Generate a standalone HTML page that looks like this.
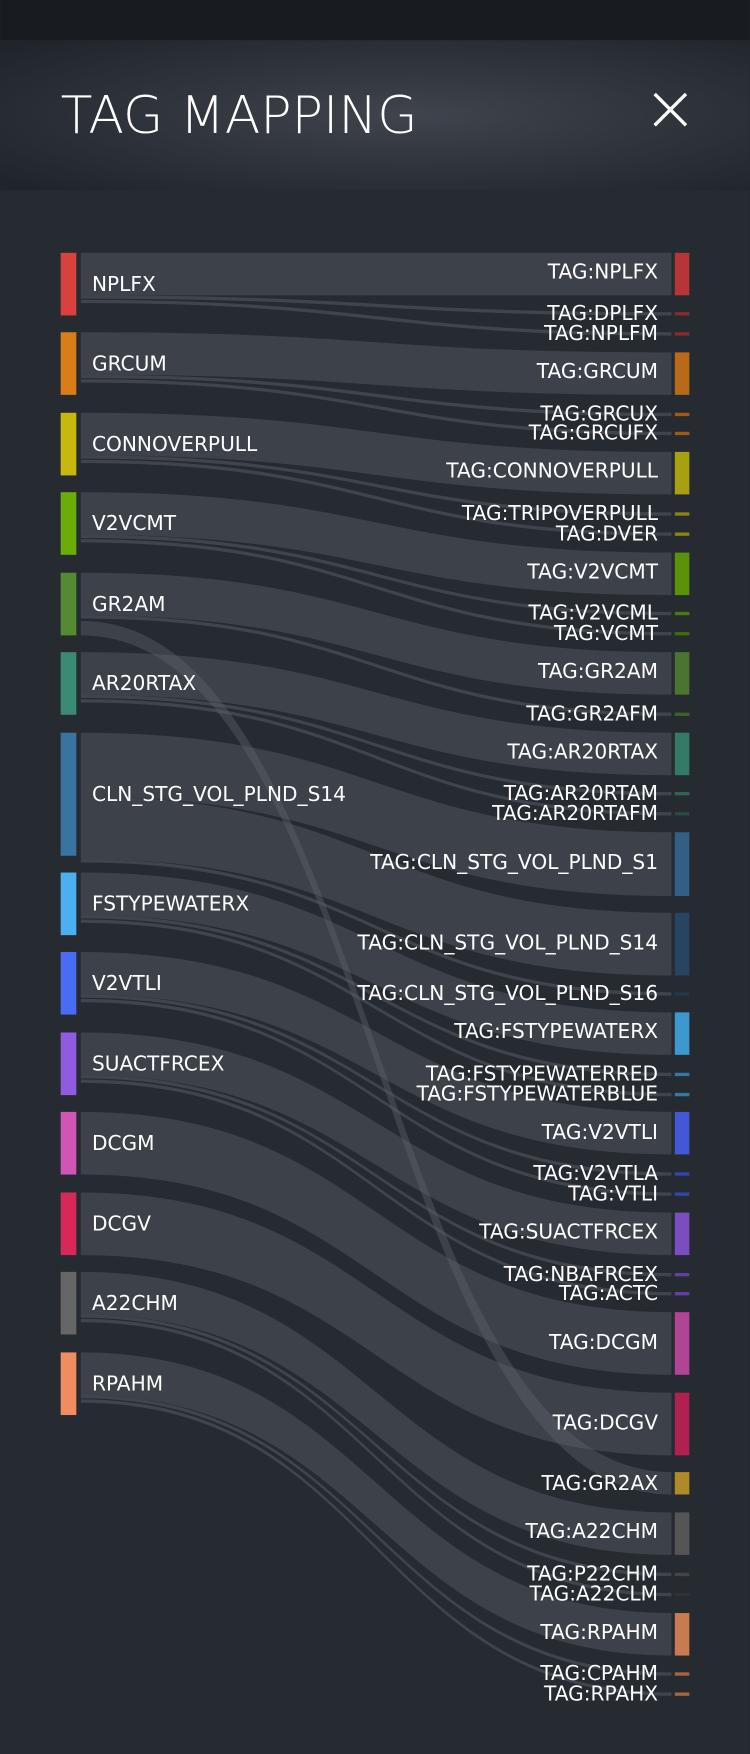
<!DOCTYPE html>
<html><head><meta charset="utf-8"><style>
html,body{margin:0;padding:0;background:#262a31;}
body{width:750px;height:1754px;overflow:hidden;font-family:"Liberation Sans","DejaVu Sans",sans-serif;}
svg{display:block}
text{font-family:"DejaVu Sans","Liberation Sans",sans-serif;fill:#fff;}
</style></head><body>
<svg id="s" width="750" height="1754" viewBox="0 0 670 1568" xmlns="http://www.w3.org/2000/svg">
<defs>
<radialGradient id="hg" cx="0.55" cy="0.5" r="0.7">
<stop offset="0" stop-color="#3f444d"/><stop offset="1" stop-color="#20242b"/></radialGradient>
</defs>
<rect x="0" y="0" width="670" height="1568" fill="#262a31"/>
<rect x="0" y="0" width="670" height="36" fill="#181c20"/>
<rect x="0" y="36" width="670" height="134" fill="url(#hg)"/>
<text x="54" y="119" font-size="46.5" style="font-weight:300" fill="#fff">TAG MAPPING</text>
<path d="M585,84 L613,112 M613,84 L585,112" stroke="#fff" stroke-width="3" fill="none"/>
<g id="links"></g>
<g id="nodes"></g>
<g font-size="18">
<text x="82" y="260">NPLFX</text>
<text x="82" y="331">GRCUM</text>
<text x="82" y="403">CONNOVERPULL</text>
<text x="82" y="474">V2VCMT</text>
<text x="82" y="546">GR2AM</text>
<text x="82" y="617">AR20RTAX</text>
<text x="82" y="716">CLN_STG_VOL_PLND_S14</text>
<text x="82" y="814">FSTYPEWATERX</text>
<text x="82" y="885">V2VTLI</text>
<text x="82" y="957">SUACTFRCEX</text>
<text x="82" y="1028">DCGM</text>
<text x="82" y="1100">DCGV</text>
<text x="82" y="1171">A22CHM</text>
<text x="82" y="1243">RPAHM</text>
</g>
<g font-size="18" text-anchor="end">
<text x="588" y="249">TAG:NPLFX</text>
<text x="588" y="286">TAG:DPLFX</text>
<text x="588" y="304">TAG:NPLFM</text>
<text x="588" y="338">TAG:GRCUM</text>
<text x="588" y="376">TAG:GRCUX</text>
<text x="588" y="393">TAG:GRCUFX</text>
<text x="588" y="427">TAG:CONNOVERPULL</text>
<text x="588" y="465">TAG:TRIPOVERPULL</text>
<text x="588" y="483">TAG:DVER</text>
<text x="588" y="517">TAG:V2VCMT</text>
<text x="588" y="554">TAG:V2VCML</text>
<text x="588" y="572">TAG:VCMT</text>
<text x="588" y="606">TAG:GR2AM</text>
<text x="588" y="644">TAG:GR2AFM</text>
<text x="588" y="678">TAG:AR20RTAX</text>
<text x="588" y="715">TAG:AR20RTAM</text>
<text x="588" y="733">TAG:AR20RTAFM</text>
<text x="588" y="777">TAG:CLN_STG_VOL_PLND_S1</text>
<text x="588" y="849">TAG:CLN_STG_VOL_PLND_S14</text>
<text x="588" y="894">TAG:CLN_STG_VOL_PLND_S16</text>
<text x="588" y="928">TAG:FSTYPEWATERX</text>
<text x="588" y="966">TAG:FSTYPEWATERRED</text>
<text x="588" y="984">TAG:FSTYPEWATERBLUE</text>
<text x="588" y="1018">TAG:V2VTLI</text>
<text x="588" y="1055">TAG:V2VTLA</text>
<text x="588" y="1073">TAG:VTLI</text>
<text x="588" y="1107">TAG:SUACTFRCEX</text>
<text x="588" y="1145">TAG:NBAFRCEX</text>
<text x="588" y="1162">TAG:ACTC</text>
<text x="588" y="1206">TAG:DCGM</text>
<text x="588" y="1278">TAG:DCGV</text>
<text x="588" y="1332">TAG:GR2AX</text>
<text x="588" y="1375">TAG:A22CHM</text>
<text x="588" y="1413">TAG:P22CHM</text>
<text x="588" y="1431">TAG:A22CLM</text>
<text x="588" y="1465">TAG:RPAHM</text>
<text x="588" y="1502">TAG:CPAHM</text>
<text x="588" y="1520">TAG:RPAHX</text>
</g>
</svg>
<script>
var L=[
["#d9413f",226,282,[["#b83535",226,264],["#8a2a2a",279,282],["#8a2a2a",297,300]]],
["#d97c1a",297,353,[["#b86a18",315,353],["#a05a14",369,372],["#a05a14",386,389]]],
["#c8b80e",369,425,[["#a8a010",404,442],["#8a8410",458,461],["#8a8410",476,479]]],
["#6aac0a",440,496,[["#5a9208",494,532],["#4a7a08",547,550],["#3f6a08",565,568]]],
["#568a32",512,568,[["#4a7430",583,621],["#3e6228",637,640],["#b08a28",1316,1336]]],
["#3a8a74",583,639,[["#357a66",655,693],["#2d6656",708,711],["#244c42",726,729]]],
["#3b73a0",655,765,[["#345f85",744,801],["#254560",816,872],["#22384c",887,890]]],
["#4ab0f0",780,836,[["#3d98d0",905,943],["#3478a8",959,962],["#3478a8",977,980]]],
["#4a6cf5",851,907,[["#4258d5",994,1032],["#3444b0",1048,1051],["#3444b0",1066,1069]]],
["#8f5ce0",923,979,[["#7a4ec0",1084,1122],["#643ea0",1138,1141],["#643ea0",1155,1158]]],
["#d055b5",994,1050,[["#b04495",1173,1229]]],
["#d8285a",1066,1122,[["#b02050",1245,1301]]],
["#666666",1137,1193,[["#555555",1352,1390],["#444444",1406,1409],["#333333",1424,1427]]],
["#f08c60",1209,1265,[["#c87a50",1442,1480],["#a86440",1495,1498],["#a86440",1513,1516]]]
];
var ns="http://www.w3.org/2000/svg",lg=document.getElementById("links"),ng=document.getElementById("nodes");
function el(g,t,a){var e=document.createElementNS(ns,t);for(var k in a)e.setAttribute(k,a[k]);g.appendChild(e);return e;}
L.forEach(function(n){
 el(ng,"rect",{x:54,y:n[1],width:14,height:n[2]-n[1],fill:n[0]});
 var y=n[1];
 n[3].forEach(function(t,i){
  var h=t[2]-t[1]; var y0=y,y1=y+h; y=y1+(h<5?1:0);
  if(i==2&&n[1]==512){y0=n[2]-13;y1=n[2];}
  var d="M72,"+y0+" C336,"+y0+" 336,"+t[1]+" 600,"+t[1]+" L600,"+t[2]+" C336,"+t[2]+" 336,"+y1+" 72,"+y1+" Z";
  el(lg,"path",{d:d,fill:"#5a606a","fill-opacity":h<5?0.5:0.45});
  el(ng,"rect",{x:603,y:t[1],width:13,height:h,fill:t[0]});
 });
});
</script>
</body></html>
